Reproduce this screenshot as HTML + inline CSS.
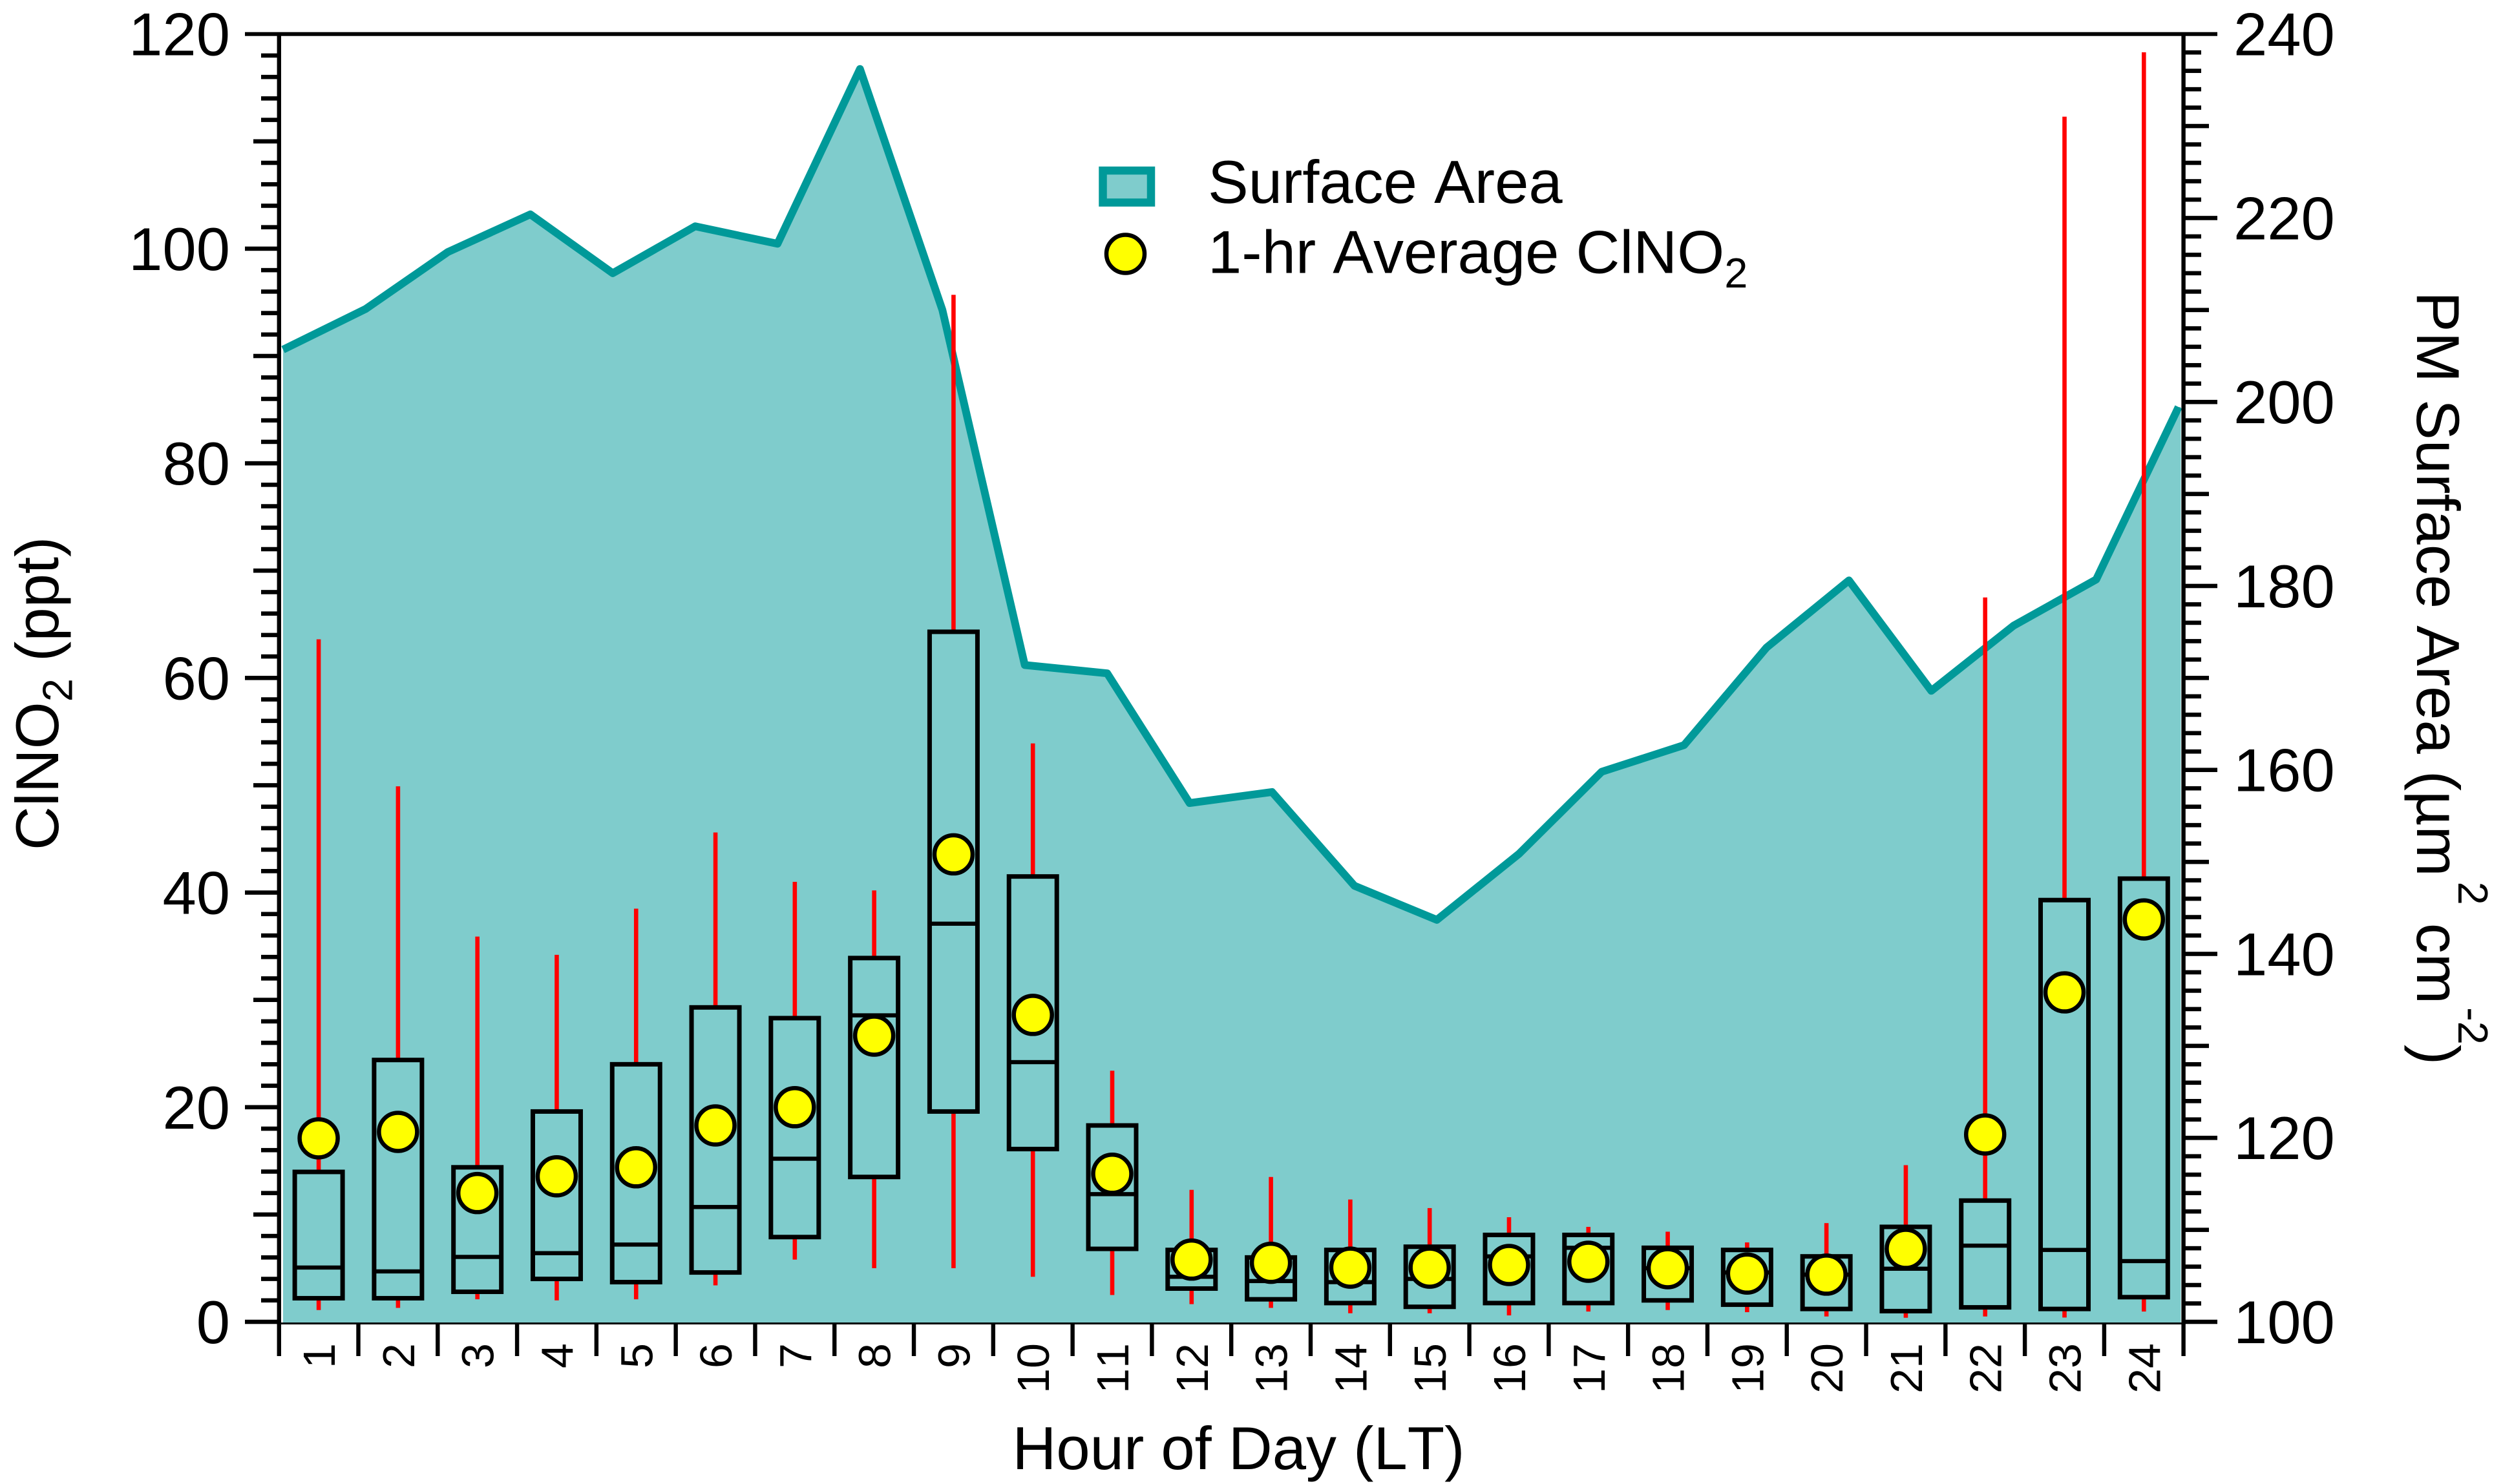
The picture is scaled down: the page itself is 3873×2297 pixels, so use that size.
<!DOCTYPE html>
<html lang="en">
<head>
<meta charset="utf-8">
<title>ClNO2 and PM Surface Area by Hour of Day</title>
<style>
html,body{margin:0;padding:0;background:#fff;width:3873px;height:2297px;overflow:hidden}
svg{display:block}
text{font-family:"Liberation Sans",Arial,sans-serif;fill:#000;font-kerning:none}
</style>
</head>
<body>
<svg id="chart" xmlns="http://www.w3.org/2000/svg" width="3873" height="2297" viewBox="0 0 3873 2297">
  <g id="area-layer"></g>
  <g id="axis-layer"></g>
  <g id="box-layer"></g>
  <g id="mean-layer"></g>
  <g id="label-layer"></g>

  <text x="1566.5" y="2274" font-size="94">Hour of Day (LT)</text>
  <text transform="translate(90 1316) rotate(-90)" font-size="94">ClNO<tspan font-size="65" dy="21.7">2</tspan><tspan dy="-21.7"> (ppt)</tspan></text>
  <text transform="translate(3740 451) rotate(90)" font-size="94">PM Surface Area (µm<tspan font-size="65" dx="8" dy="-64">2</tspan><tspan dx="28" dy="64">cm</tspan><tspan font-size="65" dx="5" dy="-64">-2</tspan><tspan dy="64">)</tspan></text>

  <g>
    <rect x="1706.5" y="264" width="74.5" height="49.5" fill="#7fcccc" stroke="#009999" stroke-width="12.5"/>
    <text x="1869" y="314" font-size="94">Surface Area</text>
    <ellipse cx="1741.5" cy="393" rx="29.5" ry="29.5" fill="#ffff00" stroke="#000" stroke-width="6.5"/>
    <text x="1869" y="422.5" font-size="94">1-hr Average ClNO<tspan font-size="65" dy="22.5">2</tspan></text>
  </g>
</svg>

<script>
// Chart data
const hours = [1,2,3,4,5,6,7,8,9,10,11,12,13,14,15,16,17,18,19,20,21,22,23,24];
const surfaceArea = [205.7,210.1,216.3,220.4,214,219.1,217.2,236.2,210,171.4,170.5,156.4,157.6,147.4,143.7,150.9,159.8,162.7,173.3,180.6,168.6,175.7,180.7,199.45];
const whiskerHigh = [63.6,49.9,35.9,34.2,38.5,45.6,41,40.2,95.7,53.9,23.4,12.3,13.5,11.4,10.6,9.75,8.85,8.4,7.4,9.2,14.6,67.5,112.3,118.3];
const boxQ3 = [13.97,24.4,14.4,19.6,24,29.3,28.3,33.9,64.3,41.5,18.3,6.7,6,6.7,7,8.1,8.1,6.9,6.7,6.1,8.85,11.3,39.3,41.3];
const boxMedian = [5.06,4.7,6.05,6.4,7.2,10.7,15.2,28.56,37.1,24.2,11.9,4.2,3.8,3.7,4,6.1,6.9,5,4.6,4.4,4.95,7.1,6.7,5.66];
const boxQ1 = [2.2,2.2,2.8,4,3.7,4.6,7.9,13.5,19.6,16.1,6.8,3.1,2.1,1.75,1.4,1.75,1.75,2,1.6,1.2,1,1.35,1.2,2.3];
const whiskerLow = [1.1,1.3,2.1,2,2.1,3.4,5.8,5,5,4.2,2.5,1.65,1.3,0.8,0.8,0.6,0.96,1.1,0.9,0.5,0.38,0.5,0.4,0.96];
const hourlyMean = [17.1,17.7,12,13.56,14.4,18.3,20,26.67,43.56,28.6,13.8,5.8,5.5,5.05,5.05,5.3,5.6,5,4.5,4.4,6.8,17.46,30.7,37.5];
const leftTickLabels = [0,20,40,60,80,100,120];
const rightTickLabels = [100,120,140,160,180,200,220,240];

// Axis functions
const plotTop = 52.7, plotBottom = 2046, axisLeft = 431.7, axisRight = 3378.7;
function yLeft(v){ return plotBottom - (v / 120) * (plotBottom - plotTop); }
function yRight(v){ return plotBottom - ((v - 100) / 140) * (plotBottom - plotTop); }
function xHour(h){ return axisLeft + (axisRight - axisLeft) * (h - 0.5) / hours.length; }
function xEdge(i){ return axisLeft + (axisRight - axisLeft) * i / hours.length; }
const areaStart = 438, areaEnd = 3371, areaEdge = 3374.5, areaBase = 2047.5;
function xArea(i){ return areaStart + (areaEnd - areaStart) * i / (surfaceArea.length - 1); }

const NS = 'http://www.w3.org/2000/svg';
function mk(parent, tag, attrs){
  const el = document.createElementNS(NS, tag);
  for (const k in attrs) el.setAttribute(k, attrs[k]);
  parent.appendChild(el);
  return el;
}
const areaLayer = document.getElementById('area-layer');
const axisLayer = document.getElementById('axis-layer');
const boxLayer = document.getElementById('box-layer');
const meanLayer = document.getElementById('mean-layer');
const labelLayer = document.getElementById('label-layer');

// Surface area fill and line
const linePts = surfaceArea.map((v, i) => xArea(i).toFixed(1) + ',' + yRight(v).toFixed(1));
const lastY = yRight(surfaceArea[surfaceArea.length - 1]).toFixed(1);
const fillPts = [areaStart + ',' + areaBase].concat(linePts, [areaEdge + ',' + lastY, areaEdge + ',' + areaBase]);
const areaFill = mk(areaLayer, 'polygon', {points: fillPts.join(' '), fill: '#7fcccc'});


const areaLine = mk(areaLayer, 'polyline', {points: linePts.join(' '), fill: 'none', stroke: '#009999', 'stroke-width': 12, 'stroke-linejoin': 'round'});



// Axis frame
const leftLine = mk(axisLayer, 'rect', {x: 428.6, y: plotTop, width: 6.4, height: 2099 - plotTop, fill: '#000'});


const rightLine = mk(axisLayer, 'rect', {x: 3375.4, y: plotTop, width: 6.4, height: 2099 - plotTop, fill: '#000'});


const topLine = mk(axisLayer, 'rect', {x: 379, y: plotTop - 3, width: 3052, height: 6, fill: '#000'});


const bottomLine = mk(axisLayer, 'rect', {x: 428.6, y: 2047, width: 2953, height: 3, fill: '#000'});



// Y ticks: every 2 units, medium on odd tens, long on labelled twenties
const leftMax = leftTickLabels[leftTickLabels.length - 1];
for (let v = 0; v < leftMax; v += 2) {
  const len = v % 20 === 0 ? 52 : (v % 10 === 0 ? 39 : 27);
  const t = mk(axisLayer, 'rect', {x: 431 - len, y: yLeft(v) - 3.3, width: len, height: 6.6, fill: '#000'});
  
  
}
const rightMax = rightTickLabels[rightTickLabels.length - 1];
for (let v = rightTickLabels[0]; v < rightMax; v += 2) {
  const len = v % 20 === 0 ? 52 : (v % 10 === 0 ? 39 : 27);
  const t = mk(axisLayer, 'rect', {x: 3379, y: yRight(v) - 3.3, width: len, height: 6.6, fill: '#000'});
  
  
}
// X ticks
for (let i = 1; i < hours.length; i++) {
  const t = mk(axisLayer, 'rect', {x: xEdge(i) - 3.2, y: 2049, width: 6.4, height: 50, fill: '#000'});
  
  
}

// Tick labels
leftTickLabels.forEach(v => {
  const t = mk(labelLayer, 'text', {x: 356, y: yLeft(v) + 33, 'font-size': 94, 'text-anchor': 'end'});
  t.textContent = v;
  
  
});
rightTickLabels.forEach(v => {
  const t = mk(labelLayer, 'text', {x: 3456, y: yRight(v) + 33, 'font-size': 94});
  t.textContent = v;
  
  
});
hours.forEach(h => {
  const t = mk(labelLayer, 'text', {transform: 'translate(' + (xHour(h) + 25).toFixed(1) + ' 2079) rotate(-90)', 'font-size': 70, 'text-anchor': 'end'});
  t.textContent = h;
  
  
});

// Box plots
const boxWidth = 74;
hours.forEach((h, i) => {
  const cx = xHour(h);
  const hiTop = yLeft(whiskerHigh[i]), q3 = yLeft(boxQ3[i]), q1 = yLeft(boxQ1[i]), loBot = yLeft(whiskerLow[i]), med = yLeft(boxMedian[i]);
  const wHi = mk(boxLayer, 'rect', {x: cx - 3.3, y: hiTop, width: 6.6, height: Math.max(0, q3 - hiTop), fill: '#ff0000'});
  
  
  const wLo = mk(boxLayer, 'rect', {x: cx - 3.3, y: q1, width: 6.6, height: Math.max(0, loBot - q1), fill: '#ff0000'});
  
  
  const box = mk(boxLayer, 'rect', {x: cx - boxWidth / 2, y: q3, width: boxWidth, height: q1 - q3, fill: 'none', stroke: '#000', 'stroke-width': 7});
  
  
  const m = mk(boxLayer, 'rect', {x: cx - boxWidth / 2, y: med - 3.2, width: boxWidth, height: 6.4, fill: '#000'});
  
  
});

// Hourly means
hours.forEach((h, i) => {
  const c = mk(meanLayer, 'circle', {cx: xHour(h), cy: yLeft(hourlyMean[i]), r: 29.5, fill: '#ffff00', stroke: '#000', 'stroke-width': 6.5});
  
  
});
</script>
</body>
</html>
